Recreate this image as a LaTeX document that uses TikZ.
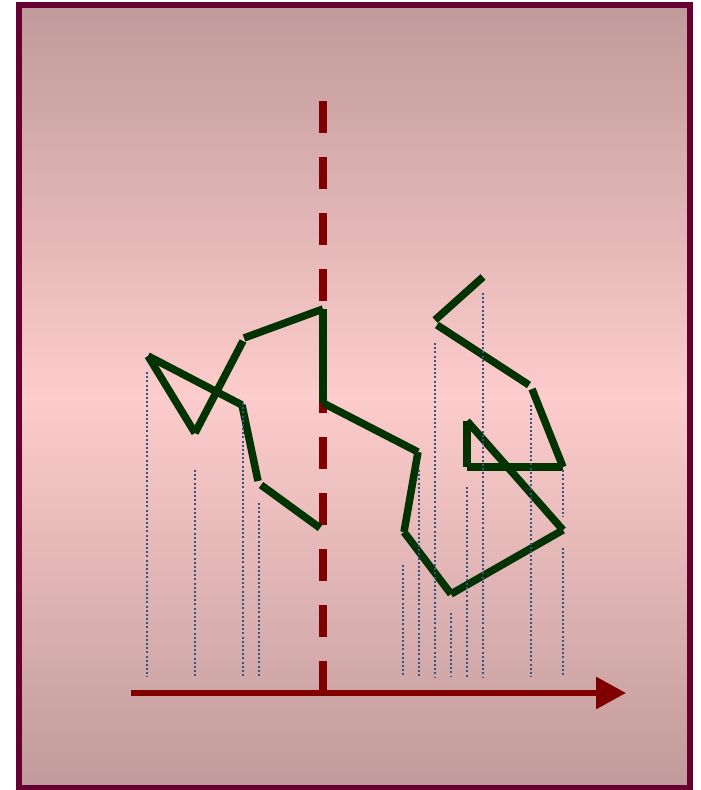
\documentclass[tikz,border=0pt]{standalone}
\usetikzlibrary{arrows.meta}
\definecolor{framec}{RGB}{102,0,51}
\definecolor{bgedge}{RGB}{192,154,154}
\definecolor{bgmid}{RGB}{253,204,204}
\definecolor{walkc}{RGB}{0,51,0}
\definecolor{axisc}{RGB}{128,0,0}
\definecolor{dotc}{RGB}{51,85,136}
\begin{document}
\begin{tikzpicture}[x=1pt,y=-1pt,
  walkseg/.style={walkc,line width=7.5pt,line cap=butt},
  dotline/.style={dotc,line width=2pt,dash pattern=on 2pt off 2.17pt},
  axisline/.style={axisc,line width=6pt},
  midline/.style={axisc,line width=8pt,dash pattern=on 32pt off 24pt}]
\useasboundingbox (0,0) rectangle (701,790);
\shade[top color=bgedge,bottom color=bgedge,middle color=bgmid] (19,5) rectangle (690,788);
\draw[framec,line width=5.5pt] (19,5) rectangle (690,788);

% axes
\coordinate (vtop) at (323,101);
\coordinate (vbot) at (323,693);
\coordinate (hl) at (131,693);
\coordinate (hr) at (626,693);
\draw[midline] (vtop) -- (vbot);
\draw[axisline,-{Triangle[length=30pt,width=31pt]}] (hl) -- (hr);

% walk vertices
\coordinate (F) at (320,528);
\coordinate (E1) at (258,481);
\coordinate (E2) at (261,485);
\coordinate (D) at (242,405);
\coordinate (A) at (148,356);
\coordinate (B) at (195,433);
\coordinate (C1) at (243,341);
\coordinate (C2) at (244,338);
\coordinate (G) at (323,309);
\coordinate (H) at (323,403);
\coordinate (I) at (418,452);
\coordinate (J) at (404,532);
\coordinate (K) at (451,594);
\coordinate (L) at (563,530);
\coordinate (M) at (467,421);
\coordinate (N) at (467,467);
\coordinate (O) at (563,467);
\coordinate (P1) at (529,385);
\coordinate (P2) at (532,389);
\coordinate (Q1) at (435,320);
\coordinate (Q2) at (437,325);
\coordinate (R) at (483,277);

\draw[walkseg] (F) -- (E2);
\draw[walkseg] (E1) -- (D);
\draw[walkseg] (D) -- (A);
\draw[walkseg] (A) -- (B);
\draw[walkseg] (B) -- (C1);
\draw[walkseg] (C2) -- (G);
\draw[walkseg] (G) -- (H);
\draw[walkseg] (H) -- (I);
\draw[walkseg] (I) -- (J);
\draw[walkseg] (J) -- (K);
\draw[walkseg] (K) -- (L);
\draw[walkseg] (L) -- (M);
\draw[walkseg] (M) -- (N);
\draw[walkseg] (N) -- (O);
\draw[walkseg] (O) -- (P2);
\draw[walkseg] (P1) -- (Q2);
\draw[walkseg] (Q1) -- (R);

% dotted drop lines
\foreach \n/\x/\t/\b in {1/147/372/677, 2/195/470/677, 3/243/403/677, 4/259/503/677,
  5/403/565/677, 6/419/470/677, 7/435/343/677, 8/451/613/677, 9/467/487/677,
  10/483/293/677, 11/531/405/677, 12/563/470/517, 13/563/548/677} {
  \coordinate (dt\n) at (\x,\t);
  \coordinate (db\n) at (\x,\b);
  \draw[dotline] (dt\n) -- (db\n);
}
\end{tikzpicture}
\end{document}
